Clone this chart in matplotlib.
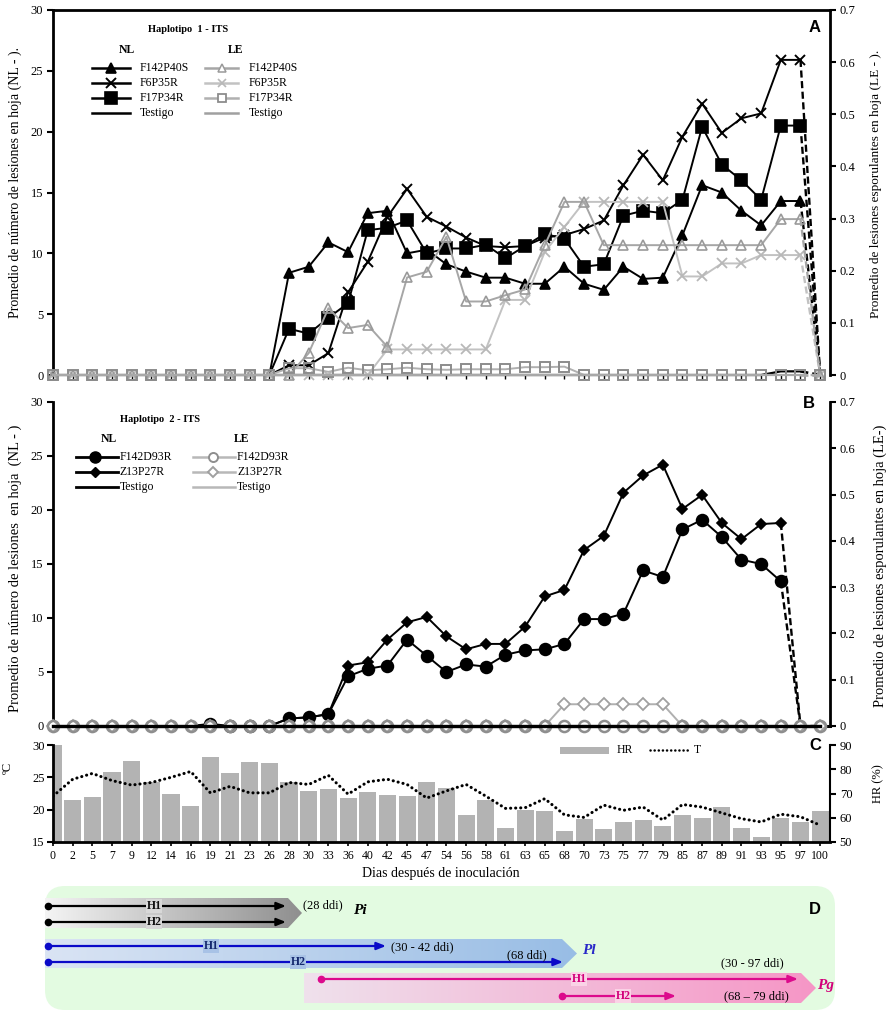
import numpy as np
import matplotlib
matplotlib.use('Agg')
import matplotlib.pyplot as plt
import matplotlib.colors as mcolors
from matplotlib.patches import Polygon, FancyBboxPatch, Rectangle
from matplotlib.ticker import FuncFormatter

plt.rcParams['font.family'] = ['Liberation Serif', 'DejaVu Serif']

# ---------------- data ----------------
days = [0, 2, 5, 7, 9, 12, 14, 16, 19, 21, 23, 26, 28, 30, 33, 36, 40, 42, 45, 47,
        54, 56, 58, 61, 63, 65, 68, 70, 73, 75, 77, 79, 85, 87, 89, 91, 93, 95, 97, 100]

# Panel A - Haplotipo 1 (NL left axis, LE right axis)
a_nl_f142p40s = [0, 0, 0, 0, 0, 0, 0, 0, 0, 0, 0, 0, 8.4, 8.9, 10.9, 10.1, 13.3, 13.5, 10.0, 10.3,
                 9.1, 8.5, 8.0, 8.0, 7.5, 7.5, 8.9, 7.5, 7.0, 8.9, 7.9, 8.0, 11.5, 15.6, 15.0, 13.5,
                 12.3, 14.3, 14.3, 0]
a_nl_f6p35r = [0, 0, 0, 0, 0, 0, 0, 0, 0, 0, 0, 0, 0.8, 0.8, 1.8, 6.8, 9.3, 13.0, 15.3, 13.0,
               12.2, 11.3, 10.6, 10.5, 10.6, 11.3, 11.5, 12.0, 12.7, 15.6, 18.1, 16.0, 19.6, 22.3,
               19.9, 21.1, 21.5, 25.9, 25.9, 0]
a_nl_f17p34r = [0, 0, 0, 0, 0, 0, 0, 0, 0, 0, 0, 0, 3.8, 3.4, 4.7, 5.9, 11.9, 12.1, 12.7, 10.0,
                10.4, 10.4, 10.7, 9.6, 10.6, 11.6, 11.2, 8.9, 9.1, 13.1, 13.5, 13.3, 14.4, 20.4,
                17.3, 16.0, 14.4, 20.5, 20.5, 0]
a_nl_testigo = [0, 0, 0, 0, 0, 0, 0, 0, 0, 0, 0, 0, 0, 0, 0, 0, 0, 0, 0, 0,
                0, 0, 0, 0, 0, 0, 0, 0, 0, 0, 0, 0, 0, 0, 0, 0, 0, 0.3, 0.3, 0]
a_le_f142p40s = [0, 0, 0, 0, 0, 0, 0, 0, 0, 0, 0, 0, 0, 0.042, 0.128, 0.090, 0.096, 0.054, 0.187,
                 0.198, 0.265, 0.141, 0.141, 0.153, 0.164, 0.249, 0.332, 0.332, 0.249, 0.249, 0.249,
                 0.249, 0.249, 0.249, 0.249, 0.249, 0.249, 0.299, 0.299, 0]
a_le_f6p35r = [0, 0, 0, 0, 0, 0, 0, 0, 0, 0, 0, 0, 0, 0, 0, 0, 0, 0.049, 0.049, 0.049,
               0.049, 0.049, 0.049, 0.144, 0.144, 0.236, 0.284, 0.332, 0.332, 0.332, 0.332, 0.332,
               0.189, 0.189, 0.214, 0.214, 0.230, 0.230, 0.230, 0]
a_le_f17p34r = [0, 0, 0, 0, 0, 0, 0, 0, 0, 0, 0, 0, 0.013, 0.013, 0.006, 0.014, 0.009, 0.011,
                0.014, 0.011, 0.010, 0.011, 0.011, 0.011, 0.015, 0.015, 0.016, 0, 0, 0, 0, 0, 0,
                0, 0, 0, 0, 0, 0, 0]
a_le_testigo = [0] * 40

# Panel B - Haplotipo 2
b_nl_f142d93r = [0, 0, 0, 0, 0, 0, 0, 0, 0.2, 0, 0, 0, 0.7, 0.8, 1.1, 4.6, 5.3, 5.6, 8.0, 6.5,
                 5.0, 5.7, 5.5, 6.6, 7.0, 7.1, 7.6, 9.9, 9.9, 10.4, 14.4, 13.8, 18.2, 19.1, 17.5,
                 15.4, 15.0, 13.4, 0, 0]
b_nl_z13p27r = [0, 0, 0, 0, 0, 0, 0, 0, 0, 0, 0, 0, 0.7, 0.8, 1.1, 5.6, 5.9, 8.0, 9.6, 10.1,
                8.3, 7.1, 7.6, 7.6, 9.2, 12.0, 12.6, 16.3, 17.6, 21.6, 23.2, 24.2, 20.1, 21.4, 18.8,
                17.3, 18.7, 18.8, 0, 0]
b_nl_testigo = [0] * 40
b_le_f142d93r = [0] * 40
b_le_z13p27r = [0, 0, 0, 0, 0, 0, 0, 0, 0, 0, 0, 0, 0, 0, 0, 0, 0, 0, 0, 0,
                0, 0, 0, 0, 0, 0, 0.047, 0.047, 0.047, 0.047, 0.047, 0.047, 0, 0, 0, 0, 0, 0, 0, 0]
b_le_testigo = [0] * 40

# Panel C - climate
hr = [90, 67.3, 68.7, 79, 83.3, 74.8, 69.6, 64.7, 85.1, 78.4, 82.8, 82.4, 74.6, 70.9, 71.9, 68.1,
      70.8, 69.5, 68.9, 74.6, 72.3, 61.1, 67.3, 55.9, 63.1, 62.6, 54.4, 59.5, 55.5, 58.1, 59.0,
      56.7, 61.1, 59.7, 64.3, 55.9, 52.1, 59.8, 58.4, 62.6]
temp = [22.1, 24.7, 25.6, 24.5, 23.8, 24.2, 25.0, 25.9, 22.6, 23.6, 22.6, 22.6, 24.2, 23.9, 25.3,
        22.4, 24.3, 24.7, 23.9, 21.8, 22.9, 23.9, 22.1, 20.2, 20.3, 21.7, 19.2, 18.8, 20.7, 19.9,
        20.4, 18.4, 20.8, 20.4, 19.5, 18.6, 18.1, 19.3, 18.9, 17.6]

# ---------------- figure ----------------
W, H = 894, 1016
fig = plt.figure(figsize=(W / 100, H / 100), dpi=100)


def rect(l, t, r, b):
    return [l / W, 1 - b / H, (r - l) / W, (b - t) / H]


x = np.arange(len(days))
XMAX = 39.5
GRAY_LINE = '#A8A8A8'
DOTS = (0, (0.05, 1.6))


def draw(ax, y, last, color, marker, ms, mfc, mec, lw=1.4, mew=1.2, black=False, zorder=2):
    y = np.asarray(y, float)
    if black:
        nz = np.nonzero(y[:last + 1])[0]
        me = list(range(nz[0], last + 1))
    else:
        me = None
    ax.plot(x[:last + 1], y[:last + 1], color=color, lw=lw, marker=marker, ms=ms, mfc=mfc,
            mec=mec, mew=mew, markevery=me, zorder=zorder, clip_on=False)
    ax.plot(x[last:last + 2], y[last:last + 2], color=color, lw=lw + 0.3, ls=(0, (3, 1.5)),
            zorder=zorder, clip_on=False)
    if last + 1 < len(y):
        if black:
            ax.plot(x[last + 1:], y[last + 1:], color=color, lw=lw, zorder=zorder, clip_on=False)
        else:
            ax.plot(x[last + 1:], y[last + 1:], color=color, lw=lw, marker=marker, ms=ms,
                    mfc=mfc, mec=mec, mew=mew, zorder=zorder, clip_on=False)


def le_fmt(v, _):
    return '0' if abs(v) < 1e-9 else f'{v:.1f}'


def style_pair(ax, ax2, top, bottom):
    ax.set_xlim(0, XMAX)
    ax.set_ylim(0, 30)
    ax2.set_ylim(0, 0.7)
    ax.set_yticks([0, 5, 10, 15, 20, 25, 30])
    ax2.set_yticks(np.arange(0, 0.71, 0.1))
    ax2.yaxis.set_major_formatter(FuncFormatter(le_fmt))
    for a in (ax, ax2):
        for s in a.spines.values():
            s.set_visible(False)
        a.patch.set_visible(False)
    ax.spines['left'].set_visible(True)
    ax.spines['left'].set_linewidth(2)
    ax2.spines['right'].set_visible(True)
    ax2.spines['right'].set_linewidth(2)
    if top:
        ax.spines['top'].set_visible(True)
        ax.spines['top'].set_linewidth(2)
    if bottom:
        ax.spines['bottom'].set_visible(True)
        ax.spines['bottom'].set_linewidth(2.2)
    ax.tick_params(axis='y', direction='out', length=4, width=1.5, labelsize=9, pad=3)
    ax2.tick_params(axis='y', direction='out', length=4, width=1.5, labelsize=9, pad=3)
    ax.set_xticks(x)


# ---------------- Panel A ----------------
axA = fig.add_axes(rect(53, 10, 830, 375))
axA2 = axA.twinx()
style_pair(axA, axA2, top=True, bottom=False)
axA.tick_params(axis='x', bottom=True, labelbottom=False, length=3, width=1, direction='out')

draw(axA, a_nl_testigo, 38, 'black', None, 0, 'none', 'none', lw=1.6)
draw(axA, a_nl_f142p40s, 38, 'black', '^', 7.5, 'black', 'black', black=True)
draw(axA, a_nl_f6p35r, 38, 'black', 'x', 7.5, 'black', 'black', mew=1.4, black=True)
draw(axA, a_nl_f17p34r, 38, 'black', 's', 8, 'black', 'black', black=True)

draw(axA2, a_le_f6p35r, 38, '#C2C2C2', 'x', 6.5, 'none', '#B8B8B8', mew=1.3)
draw(axA2, a_le_f142p40s, 38, '#A6A6A6', '^', 7.5, 'none', '#9A9A9A', mew=1.2)
draw(axA2, a_le_f17p34r, 38, '#B0B0B0', 's', 7, 'none', '#8C8C8C', mew=1.4)
draw(axA2, a_le_testigo, 38, GRAY_LINE, None, 0, 'none', 'none', lw=1.6, zorder=3)

# ---------------- Panel B ----------------
axB = fig.add_axes(rect(53, 402, 830, 726))
axB2 = axB.twinx()
style_pair(axB, axB2, top=False, bottom=True)
axB.tick_params(axis='x', bottom=False, labelbottom=False)

draw(axB, b_nl_f142d93r, 37, 'black', 'o', 8.5, 'black', 'black', black=True)
draw(axB, b_nl_z13p27r, 37, 'black', 'D', 5.5, 'black', 'black', black=True)
draw(axB2, b_le_z13p27r, 38, '#B0B0B0', 'D', 6, 'white', '#A0A0A0', mew=1.3)
draw(axB2, b_le_f142d93r, 38, '#B0B0B0', 'o', 8, 'none', '#8E8E8E', mew=1.8)
draw(axB2, b_le_testigo, 38, '#B0B0B0', None, 0, 'none', 'none')
# NL control line (drawn in NL data coordinates, above the grey series)
axB2.plot(x, b_nl_testigo, color='black', lw=2.4, transform=axB.transData, zorder=2.5,
          clip_on=False)

# ---------------- Panel C ----------------
axC = fig.add_axes(rect(53, 745, 830, 842))
axC2 = axC.twinx()
axC.set_zorder(axC2.get_zorder() + 1)
axC.patch.set_visible(False)
axC.set_xlim(0, XMAX)
axC.set_ylim(15, 30)
axC2.set_ylim(50, 90)
axC2.bar(x, hr, width=0.87, color='#B3B3B3', zorder=1)
axC.plot(x, temp, color='black', lw=2.2, ls=DOTS, dash_capstyle='round', zorder=3)
axC.set_yticks([15, 20, 25, 30])
axC2.set_yticks([50, 60, 70, 80, 90])
axC.set_xticks(x)
axC.set_xticklabels([str(d) for d in days], fontsize=8.5)
for a in (axC, axC2):
    for s in a.spines.values():
        s.set_visible(False)
axC.spines['left'].set_visible(True)
axC.spines['left'].set_linewidth(2)
axC.spines['bottom'].set_visible(True)
axC.spines['bottom'].set_linewidth(2)
axC2.spines['right'].set_visible(True)
axC2.spines['right'].set_linewidth(1.5)
axC.tick_params(axis='y', direction='out', length=4, width=1.5, labelsize=9, pad=2)
axC2.tick_params(axis='y', direction='out', length=4, width=1.5, labelsize=9, pad=3)
axC.tick_params(axis='x', direction='out', length=3, width=1.2, pad=3)

# ---------------- overlay (pixel coords) ----------------
ov = fig.add_axes([0, 0, 1, 1], zorder=20)
ov.patch.set_visible(False)
ov.axis('off')


def T(px, py, s, **kw):
    kw.setdefault('va', 'center')
    kw.setdefault('ha', 'center')
    return ov.text(px, py, s, **kw)


SANS = ['Liberation Sans', 'DejaVu Sans']

# axis labels
T(15, 183, 'Promedio de número de lesiones en hoja (NL - ).', rotation=90, fontsize=10)
T(876, 184, 'Promedio de lesiones esporulantes en hoja (LE - ).', rotation=90, fontsize=9.5)
T(15, 568, 'Promedio de número de lesiones  en hoja  (NL - )', rotation=90, fontsize=10.5)
T(880, 566, 'Promedio de lesiones esporulantes en hoja (LE-)', rotation=90, fontsize=10.5)
T(8, 768, 'ºC', rotation=90, fontsize=9)
T(878, 784, 'HR (%)', rotation=90, fontsize=9)
T(441, 874, 'Dias después de inoculación', fontsize=10)

# panel letters
T(815, 27, 'A', fontsize=12, fontweight='bold', family=SANS)
T(809, 404, 'B', fontsize=12, fontweight='bold', family=SANS)
T(815, 745, 'C', fontsize=12, fontweight='bold', family=SANS)
T(815, 909, 'D', fontsize=12, fontweight='bold', family=SANS)

# legend A
T(148, 29, 'Haplotipo  1 - ITS', ha='left', fontsize=7.5, fontweight='bold')
T(127, 50, 'NL', fontsize=8.5, fontweight='bold')
T(236, 50, 'LE', fontsize=8.5, fontweight='bold')
rowsA = [68, 83, 98, 113]
namesA = ['F142P40S', 'F6P35R', 'F17P34R', 'Testigo']
nlA = [('^', 7.5, 'black', 'black', 1.2), ('x', 7, 'black', 'black', 1.4),
       ('s', 8, 'black', 'black', 1.2), (None, 0, 'black', 'black', 1)]
leA = [('^', 6, 'none', '#9A9A9A', 1.1, '#A6A6A6'), ('x', 5.5, 'none', '#B8B8B8', 1.2, '#C2C2C2'),
       ('s', 6, 'none', '#8C8C8C', 1.3, '#B0B0B0'), (None, 0, 'none', 'none', 1, '#A0A0A0')]
for yy, nm, s1, s2 in zip(rowsA, namesA, nlA, leA):
    ov.plot([92, 130], [yy, yy], color='black', lw=1.8)
    if s1[0]:
        ov.plot(111, yy, marker=s1[0], ms=s1[1], mfc=s1[2], mec=s1[3], mew=s1[4], ls='none')
    T(140, yy, nm, ha='left', fontsize=8.5)
    ov.plot([205, 238], [yy, yy], color=s2[5], lw=1.8)
    if s2[0]:
        ov.plot(222, yy, marker=s2[0], ms=s2[1], mfc='white', mec=s2[3], mew=s2[4], ls='none')
    T(249, yy, nm, ha='left', fontsize=8.5)

# legend B
T(160, 419, 'Haplotipo  2 - ITS', fontsize=7.5, fontweight='bold')
T(109, 439, 'NL', fontsize=8.5, fontweight='bold')
T(242, 439, 'LE', fontsize=8.5, fontweight='bold')
rowsB = [457, 472, 487]
namesB = ['F142D93R', 'Z13P27R', 'Testigo']
nlB = [('o', 8), ('D', 5.5), (None, 0)]
leB = [('o', 6.5, '#8E8E8E'), ('D', 5.5, '#A0A0A0'), (None, 0, None)]
for yy, nm, s1, s2 in zip(rowsB, namesB, nlB, leB):
    ov.plot([76, 118], [yy, yy], color='black', lw=2)
    if s1[0]:
        ov.plot(95, yy, marker=s1[0], ms=s1[1], color='black', ls='none')
    T(120, yy, nm, ha='left', fontsize=8.5)
    ov.plot([193, 235], [yy, yy], color='#B8B8B8', lw=1.8)
    if s2[0]:
        ov.plot(213, yy, marker=s2[0], ms=s2[1], mfc='white', mec=s2[2], mew=1.4, ls='none')
    T(237, yy, nm, ha='left', fontsize=8.5)

# legend C
ov.add_patch(Rectangle((560, 746.5), 49, 7, facecolor='#B3B3B3', edgecolor='none'))
T(617, 750, 'HR', ha='left', fontsize=8.5)
ov.plot([650, 690], [750, 750], color='black', lw=1.8, ls=DOTS, dash_capstyle='round')
T(694, 750, 'T', ha='left', fontsize=8.5)

# ---------------- Panel D ----------------
ov.add_patch(FancyBboxPatch((45, 886), 790, 124, boxstyle='round,pad=0,rounding_size=20',
                            facecolor='#E3FBE1', edgecolor='none', zorder=0))


def grad_poly(pts, c0, c1):
    poly = Polygon(pts, closed=True, facecolor='none', edgecolor='none')
    ov.add_patch(poly)
    xs = [p[0] for p in pts]
    ys = [p[1] for p in pts]
    g = np.linspace(0, 1, 256)[None, :, None]
    a0 = np.array(mcolors.to_rgb(c0))[None, None, :]
    a1 = np.array(mcolors.to_rgb(c1))[None, None, :]
    img = a0 * (1 - g) + a1 * g
    im = ov.imshow(img, extent=(min(xs), max(xs), max(ys), min(ys)), aspect='auto',
                   interpolation='bilinear', zorder=1)
    im.set_clip_path(poly)


grad_poly([(45, 898), (288, 898), (302, 913), (288, 928), (45, 928)], '#F4F4F4', '#8F8F8F')
grad_poly([(45, 939), (562, 939), (577, 953.5), (562, 968), (45, 968)], '#DAE4F4', '#98BDE5')
grad_poly([(304, 973), (801, 973), (816, 988), (801, 1003), (304, 1003)], '#EFE1EC', '#F696C6')


def harrow(x0, x1, yy, color):
    ov.annotate('', xy=(x1, yy), xytext=(x0, yy),
                arrowprops=dict(arrowstyle='-|>,head_length=0.55,head_width=0.22', color=color,
                                lw=1.6, shrinkA=0, shrinkB=0), zorder=3)
    ov.plot(x0, yy, 'o', color=color, ms=4.5, zorder=3)


def hlab(px, py, s, tc, bc):
    T(px, py, s, fontsize=8.5, fontweight='bold', color=tc, zorder=4,
      bbox=dict(boxstyle='square,pad=0.08', facecolor=bc, edgecolor='none'))


BLK, BLU, MAG = '#000000', '#0A0AC8', '#DC0A8C'
harrow(48, 286, 906, BLK)
harrow(48, 286, 922, BLK)
hlab(154, 906, 'H1', '#111111', '#D8D8D8')
hlab(154, 922, 'H2', '#111111', '#D8D8D8')
T(323, 905, '(28 ddi)', fontsize=9)
T(360, 911, 'Pi', fontsize=11, fontweight='bold', style='italic')

harrow(48, 386, 946, BLU)
harrow(48, 563, 962, BLU)
hlab(211, 946, 'H1', '#14286E', '#A8C2E6')
hlab(298, 962, 'H2', '#14286E', '#A8C2E6')
T(422, 947, '(30 - 42 ddi)', fontsize=9)
T(527, 955, '(68 ddi)', fontsize=9)
T(589, 950, 'Pl', fontsize=11, fontweight='bold', style='italic', color='#2828C8')

harrow(321, 798, 979, MAG)
harrow(562, 676, 996, MAG)
hlab(579, 979, 'H1', '#D2007A', '#FAD3E6')
hlab(623, 996, 'H2', '#D2007A', '#FAD3E6')
T(752, 963, '(30 - 97 ddi)', fontsize=9)
T(756, 996, '(68 – 79 ddi)', fontsize=9)
T(826, 986, 'Pg', fontsize=11, fontweight='bold', style='italic', color='#D2007A')

ov.set_xlim(0, W)
ov.set_ylim(H, 0)

fig.savefig('out.png', dpi=100)
